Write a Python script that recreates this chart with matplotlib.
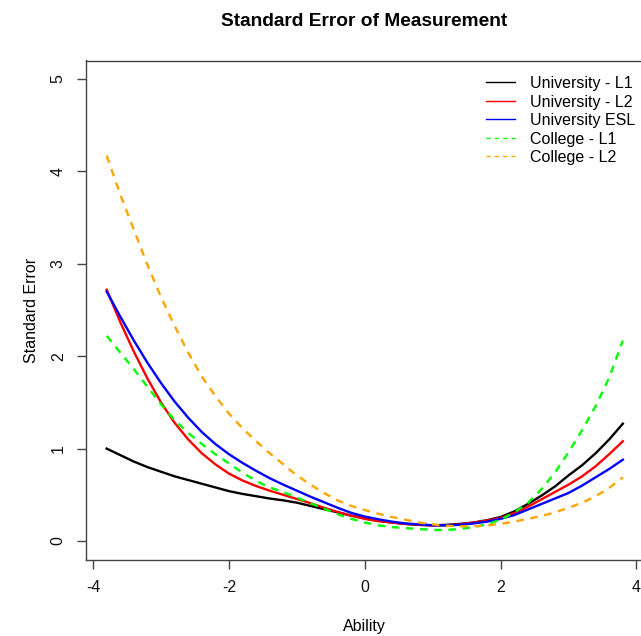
import matplotlib
matplotlib.use("Agg")
import matplotlib.pyplot as plt

plt.rcParams['font.family'] = ['Liberation Sans', 'DejaVu Sans']

# Ability grid and SEM values
ability = [-3.8, -3.6, -3.4, -3.2, -3.0, -2.8, -2.6, -2.4, -2.2, -2.0,
           -1.8, -1.6, -1.4, -1.2, -1.0, -0.8, -0.6, -0.4, -0.2, 0.0,
           0.2, 0.4, 0.6, 0.8, 1.0, 1.2, 1.4, 1.6, 1.8, 2.0,
           2.2, 2.4, 2.6, 2.8, 3.0, 3.2, 3.4, 3.6, 3.8]

uni_l1 = [1.00, 0.93, 0.86, 0.80, 0.75, 0.70, 0.66, 0.62, 0.58, 0.54,
          0.51, 0.485, 0.46, 0.44, 0.415, 0.38, 0.345, 0.31, 0.275, 0.245,
          0.22, 0.20, 0.185, 0.175, 0.17, 0.175, 0.185, 0.20, 0.225, 0.26,
          0.32, 0.40, 0.49, 0.59, 0.71, 0.82, 0.95, 1.10, 1.27]

uni_l2 = [2.72, 2.37, 2.05, 1.76, 1.50, 1.28, 1.10, 0.95, 0.83, 0.73,
          0.655, 0.595, 0.545, 0.50, 0.455, 0.41, 0.36, 0.315, 0.275, 0.24,
          0.215, 0.20, 0.185, 0.175, 0.17, 0.17, 0.18, 0.20, 0.22, 0.25,
          0.30, 0.37, 0.45, 0.53, 0.61, 0.70, 0.81, 0.94, 1.08]

uni_esl = [2.70, 2.43, 2.17, 1.93, 1.71, 1.51, 1.335, 1.18, 1.05, 0.94,
           0.845, 0.76, 0.68, 0.61, 0.545, 0.48, 0.42, 0.36, 0.305, 0.265,
           0.235, 0.21, 0.19, 0.18, 0.17, 0.17, 0.175, 0.19, 0.21, 0.24,
           0.28, 0.34, 0.40, 0.46, 0.52, 0.60, 0.69, 0.78, 0.88]

col_l1 = [2.22, 2.04, 1.86, 1.67, 1.48, 1.31, 1.17, 1.05, 0.94, 0.84,
          0.74, 0.65, 0.58, 0.53, 0.47, 0.41, 0.35, 0.29, 0.24, 0.20,
          0.17, 0.15, 0.14, 0.13, 0.12, 0.12, 0.13, 0.15, 0.18, 0.23,
          0.31, 0.41, 0.56, 0.74, 0.96, 1.20, 1.46, 1.77, 2.17]

col_l2 = [4.17, 3.75, 3.37, 2.99, 2.64, 2.33, 2.04, 1.78, 1.57, 1.38,
          1.22, 1.08, 0.95, 0.83, 0.71, 0.61, 0.52, 0.44, 0.38, 0.335,
          0.295, 0.26, 0.23, 0.20, 0.18, 0.165, 0.16, 0.16, 0.17, 0.185,
          0.21, 0.24, 0.27, 0.31, 0.36, 0.415, 0.485, 0.575, 0.69]

labels = ["University - L1", "University - L2", "University ESL",
          "College - L1", "College - L2"]
x_ticks = [-4, -2, 0, 2, 4]
y_ticks = [0, 1, 2, 3, 4, 5]

W, H = 641, 636
fig = plt.figure(figsize=(W / 100, H / 100), dpi=100)
# plot region like R's base graphics (right edge runs off the picture)
ax = fig.add_axes([86 / W, (H - 559.5) / H, 557.5 / W, 499 / H])

lw = 1.7
dash = (3.2, 2.8)
ax.plot(ability, uni_l1, color='black', lw=lw, label=labels[0])
ax.plot(ability, uni_l2, color='red', lw=lw, label=labels[1])
ax.plot(ability, uni_esl, color='blue', lw=lw, label=labels[2])
ax.plot(ability, col_l1, color='#00ff00', lw=lw, dashes=dash, label=labels[3])
ax.plot(ability, col_l2, color='#ffa500', lw=lw, dashes=dash, label=labels[4])

ax.set_xlim(-4.104, 4.104)
ax.set_ylim(-0.2, 5.2)
ax.set_xticks(x_ticks)
ax.set_xticklabels([str(t) for t in x_ticks])
ax.set_yticks(y_ticks)
ax.set_yticklabels([str(t) for t in y_ticks], rotation=90, va='center')

for s in ax.spines.values():
    s.set_color('#444444')
    s.set_linewidth(1.0)
ax.tick_params(direction='out', length=6.5, width=1.0, color='#444444',
               labelsize=11.5, labelcolor='#111111')
ax.tick_params(axis='x', pad=8)
ax.tick_params(axis='y', pad=8)

fig.text(364 / W, 1 - 22 / H, "Standard Error of Measurement",
         ha='center', va='center', fontsize=13.8, fontweight='bold')
fig.text(364 / W, 1 - 627 / H, "Ability", ha='center', va='center',
         fontsize=11.5)
fig.text(32 / W, 1 - 310 / H, "Standard Error", ha='center', va='center',
         rotation=90, fontsize=11.5)

leg = ax.legend(loc='upper left', bbox_to_anchor=(486 / W, 1 - 76 / H),
                bbox_transform=fig.transFigure, frameon=False, fontsize=11.5,
                borderpad=0, borderaxespad=0, handlelength=1.8,
                handletextpad=0.95, labelspacing=0.22)
# legend keys are drawn thin, as in R's legend()
for ln in leg.get_lines():
    ln.set_linewidth(1.0)
leg.get_lines()[3].set_dashes((3, 3))
leg.get_lines()[4].set_dashes((3, 3))

fig.savefig("out.png", dpi=100)
